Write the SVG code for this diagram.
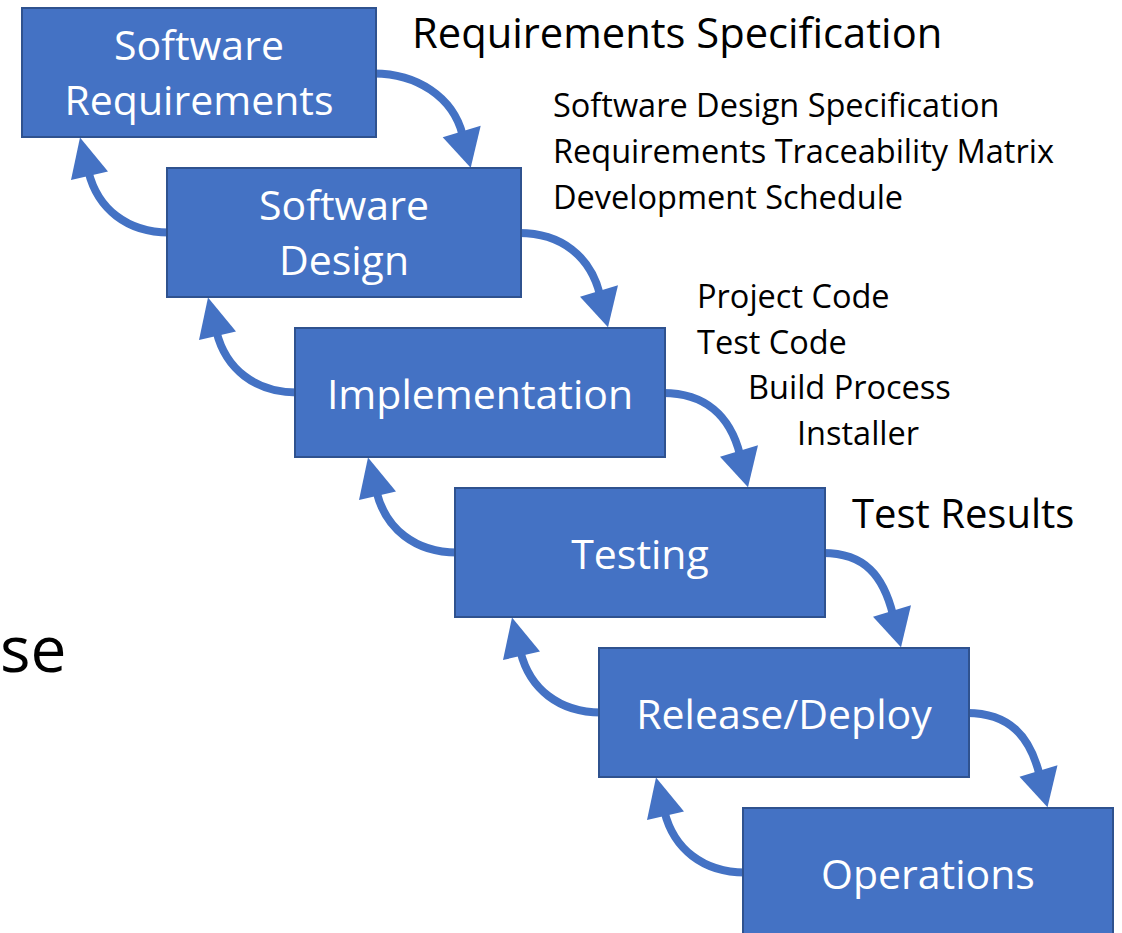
<svg xmlns="http://www.w3.org/2000/svg" width="1122" height="933" viewBox="0 0 1122 933">
  <style>
    .box { fill: #4472C4; stroke: #2F528F; stroke-width: 2; }
    .lbl { font-family: "Open Sans", "Noto Sans", "Liberation Sans", sans-serif; font-size: 41px; fill: #FFFFFF; text-anchor: middle; }
    .big { font-family: "Open Sans", "Noto Sans", "Liberation Sans", sans-serif; font-size: 41.7px; fill: #000000; }
    .note { font-family: "Open Sans", "Noto Sans", "Liberation Sans", sans-serif; font-size: 32.5px; fill: #000000; }
    .arc { fill: none; stroke: #4472C4; stroke-width: 8; }
    .head { fill: #4472C4; }
  </style>

  <rect width="1122" height="933" fill="#FFFFFF"/>

  <!-- curved connectors: forward (right side) and back (left side) -->
  <g id="connectors">
    <path class="arc" d="M374,73.5 C416,73.5 453,96.4 462.7,135.2"/>
    <polygon class="head" points="470.7,167.7 442.7,137.3 480.7,125.7"/>
    <path class="arc" d="M519,233 C561,233 590.3,255.9 600,294.7"/>
    <polygon class="head" points="608,327.2 580,296.8 618,285.2"/>
    <path class="arc" d="M663,393 C705,393 730.3,415.9 740,454.7"/>
    <polygon class="head" points="748,487.2 720,456.8 758,445.2"/>
    <path class="arc" d="M823,553 C865,553 883.3,575.9 893,614.7"/>
    <polygon class="head" points="901,647.2 873,616.8 911,605.2"/>
    <path class="arc" d="M967,713 C1009,713 1029.8,735.9 1039.5,774.7"/>
    <polygon class="head" points="1047.5,807.2 1019.5,776.8 1057.5,765.2"/>

    <path class="arc" d="M169,232.5 C127,232.5 97.7,208.8 88.5,171.9"/>
    <polygon class="head" points="80,137.5 71,180 108,171.5"/>
    <path class="arc" d="M297,392.5 C255,392.5 225.7,368.8 216.5,331.9"/>
    <polygon class="head" points="208,297.5 199,340 236,331.5"/>
    <path class="arc" d="M457,552.5 C415,552.5 385.7,528.8 376.5,491.9"/>
    <polygon class="head" points="368,457.5 359,500 396,491.5"/>
    <path class="arc" d="M601,712.5 C559,712.5 529.7,688.8 520.5,651.9"/>
    <polygon class="head" points="512,617.5 503,660 540,651.5"/>
    <path class="arc" d="M745,872.5 C703,872.5 673.7,848.8 664.5,811.9"/>
    <polygon class="head" points="656,777.5 647,820 684,811.5"/>
  </g>

  <g id="software-requirements">
    <rect class="box" x="22" y="8" width="354" height="129"/>
    <text class="lbl" x="199" y="60">Software</text>
    <text class="lbl" x="199" y="115">Requirements</text>
  </g>
  <g id="software-design">
    <rect class="box" x="167" y="168" width="354" height="129"/>
    <text class="lbl" x="344" y="220">Software</text>
    <text class="lbl" x="344" y="275">Design</text>
  </g>
  <g id="implementation">
    <rect class="box" x="295" y="328" width="370" height="129"/>
    <text class="lbl" x="480" y="409">Implementation</text>
  </g>
  <g id="testing">
    <rect class="box" x="455" y="488" width="370" height="129"/>
    <text class="lbl" x="640" y="569">Testing</text>
  </g>
  <g id="release-deploy">
    <rect class="box" x="599" y="648" width="370" height="129"/>
    <text class="lbl" x="784" y="729">Release/Deploy</text>
  </g>
  <g id="operations">
    <rect class="box" x="743" y="808" width="370" height="129"/>
    <text class="lbl" x="928" y="889">Operations</text>
  </g>

  <!-- deliverables beside each phase -->
  <g id="deliverables">
    <text class="big" x="412" y="48">Requirements Specification</text>
    <text class="note" x="553" y="117">Software Design Specification</text>
    <text class="note" x="553" y="163">Requirements Traceability Matrix</text>
    <text class="note" x="553" y="209">Development Schedule</text>
    <text class="note" x="697" y="308">Project Code</text>
    <text class="note" x="697" y="354">Test Code</text>
    <text class="note" x="748" y="399">Build Process</text>
    <text class="note" x="797" y="445">Installer</text>
    <text class="big" x="852" y="528" style="font-size:40px">Test Results</text>
  </g>

  <text class="big" x="0" y="672" style="font-size:64px">se</text>
</svg>
